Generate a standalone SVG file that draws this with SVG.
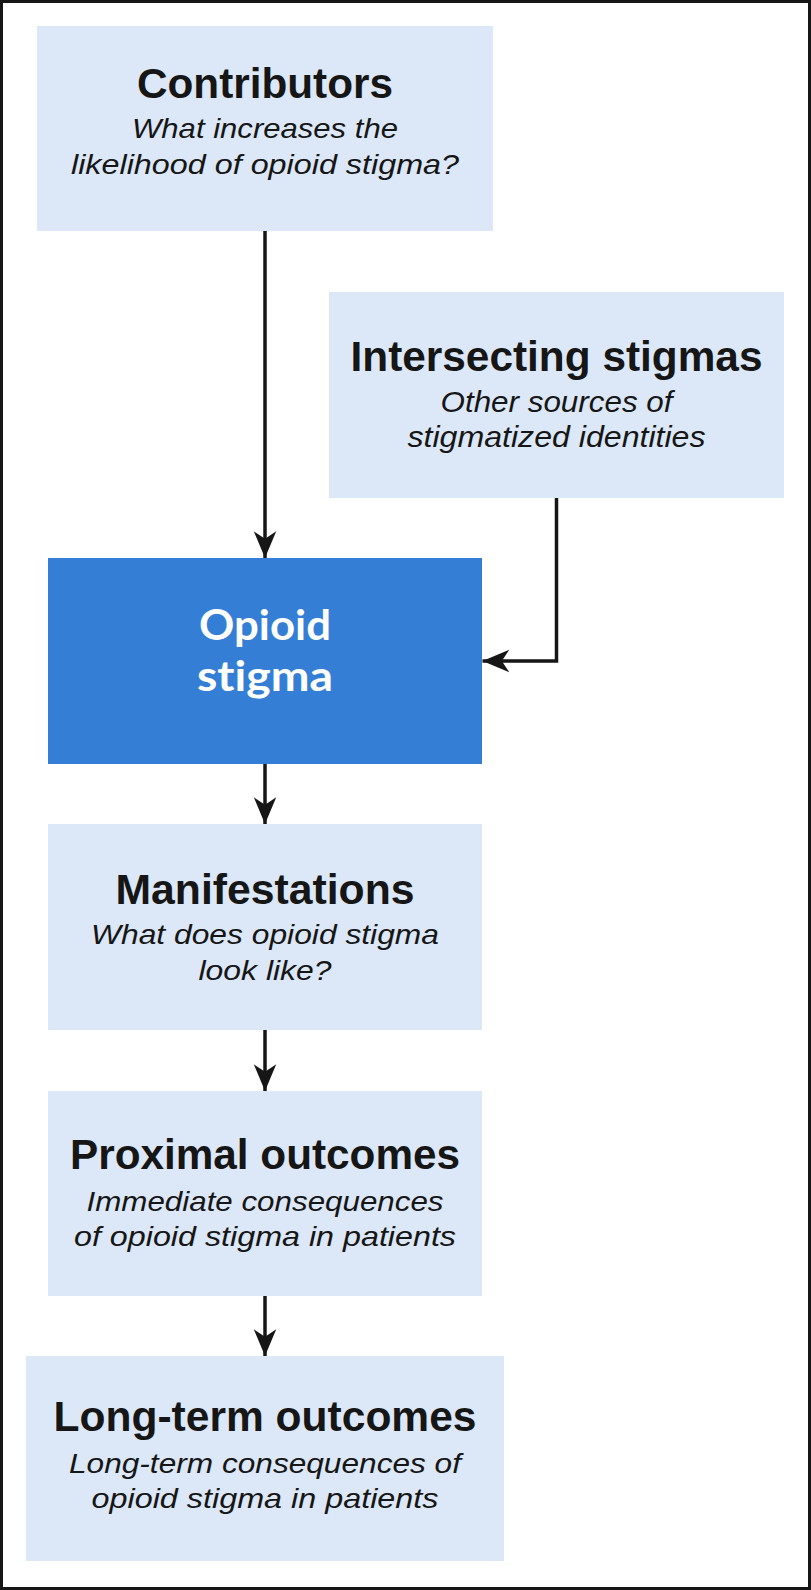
<svg xmlns="http://www.w3.org/2000/svg" width="811" height="1590" viewBox="0 0 811 1590">
<style>
.box{fill:#dce8f8}
.dark{fill:#347fd5}
.t{font-family:"Liberation Sans",Arial,sans-serif;font-weight:bold;fill:#161616;text-anchor:middle}
.s{font-family:"Liberation Sans",Arial,sans-serif;font-style:italic;fill:#161616;text-anchor:middle}
.w{font-family:Lato,"Open Sans",sans-serif;font-weight:bold;fill:#ffffff;text-anchor:middle;font-variant-ligatures:none}
.c{fill:none;stroke:#161616;stroke-width:3.5}
</style>
<defs>
<marker id="ah" markerUnits="userSpaceOnUse" markerWidth="30" markerHeight="30" viewBox="-26 -12 28 24" refX="0" refY="0" orient="auto">
<path d="M0,0 L-25,-10.5 L-18,0 L-25,10.5 Z" fill="#161616"/>
</marker>
</defs>
<rect x="1.5" y="1.5" width="808" height="1587" fill="#ffffff" stroke="#161616" stroke-width="3"/>
<g id="connectors">
<path class="c" d="M265,231 V558" marker-end="url(#ah)"/>
<path class="c" d="M556.5,498 V661 H482.5" marker-end="url(#ah)"/>
<path class="c" d="M265,764 V824" marker-end="url(#ah)"/>
<path class="c" d="M265,1030 V1091" marker-end="url(#ah)"/>
<path class="c" d="M265,1296 V1356" marker-end="url(#ah)"/>
</g>
<g id="contributors">
<rect class="box" x="37" y="26" width="456" height="205"/>
<text class="t" x="265" y="98" font-size="43" textLength="256" lengthAdjust="spacingAndGlyphs">Contributors</text>
<text class="s" x="265" y="138" font-size="28" textLength="266" lengthAdjust="spacingAndGlyphs">What increases the</text>
<text class="s" x="265" y="174" font-size="28" textLength="388" lengthAdjust="spacingAndGlyphs">likelihood of opioid stigma?</text>
</g>
<g id="intersecting">
<rect class="box" x="329" y="292" width="455" height="206"/>
<text class="t" x="556.5" y="371" font-size="42" textLength="412" lengthAdjust="spacingAndGlyphs">Intersecting stigmas</text>
<text class="s" x="556.5" y="412" font-size="29" textLength="232" lengthAdjust="spacingAndGlyphs">Other sources of</text>
<text class="s" x="556.5" y="447" font-size="29" textLength="298" lengthAdjust="spacingAndGlyphs">stigmatized identities</text>
</g>
<g id="opioid">
<rect class="dark" x="48" y="558" width="434" height="206"/>
<text class="w" x="265" y="640" font-size="42" textLength="132" lengthAdjust="spacingAndGlyphs">Opioid</text>
<text class="w" x="265" y="691" font-size="42" textLength="136" lengthAdjust="spacingAndGlyphs">stigma</text>
</g>
<g id="manifestations">
<rect class="box" x="48" y="824" width="434" height="206"/>
<text class="t" x="265" y="904" font-size="42" textLength="299" lengthAdjust="spacingAndGlyphs">Manifestations</text>
<text class="s" x="265" y="944" font-size="28" textLength="348" lengthAdjust="spacingAndGlyphs">What does opioid stigma</text>
<text class="s" x="265" y="980" font-size="28" textLength="133" lengthAdjust="spacingAndGlyphs">look like?</text>
</g>
<g id="proximal">
<rect class="box" x="48" y="1091" width="434" height="205"/>
<text class="t" x="265" y="1169" font-size="43" textLength="390" lengthAdjust="spacingAndGlyphs">Proximal outcomes</text>
<text class="s" x="265" y="1211" font-size="28" textLength="357" lengthAdjust="spacingAndGlyphs">Immediate consequences</text>
<text class="s" x="265" y="1246" font-size="28" textLength="382" lengthAdjust="spacingAndGlyphs">of opioid stigma in patients</text>
</g>
<g id="longterm">
<rect class="box" x="26" y="1356" width="478" height="205"/>
<text class="t" x="265" y="1431" font-size="43" textLength="423" lengthAdjust="spacingAndGlyphs">Long-term outcomes</text>
<text class="s" x="265" y="1473" font-size="28" textLength="392" lengthAdjust="spacingAndGlyphs">Long-term consequences of</text>
<text class="s" x="265" y="1508" font-size="28" textLength="347" lengthAdjust="spacingAndGlyphs">opioid stigma in patients</text>
</g>
</svg>
